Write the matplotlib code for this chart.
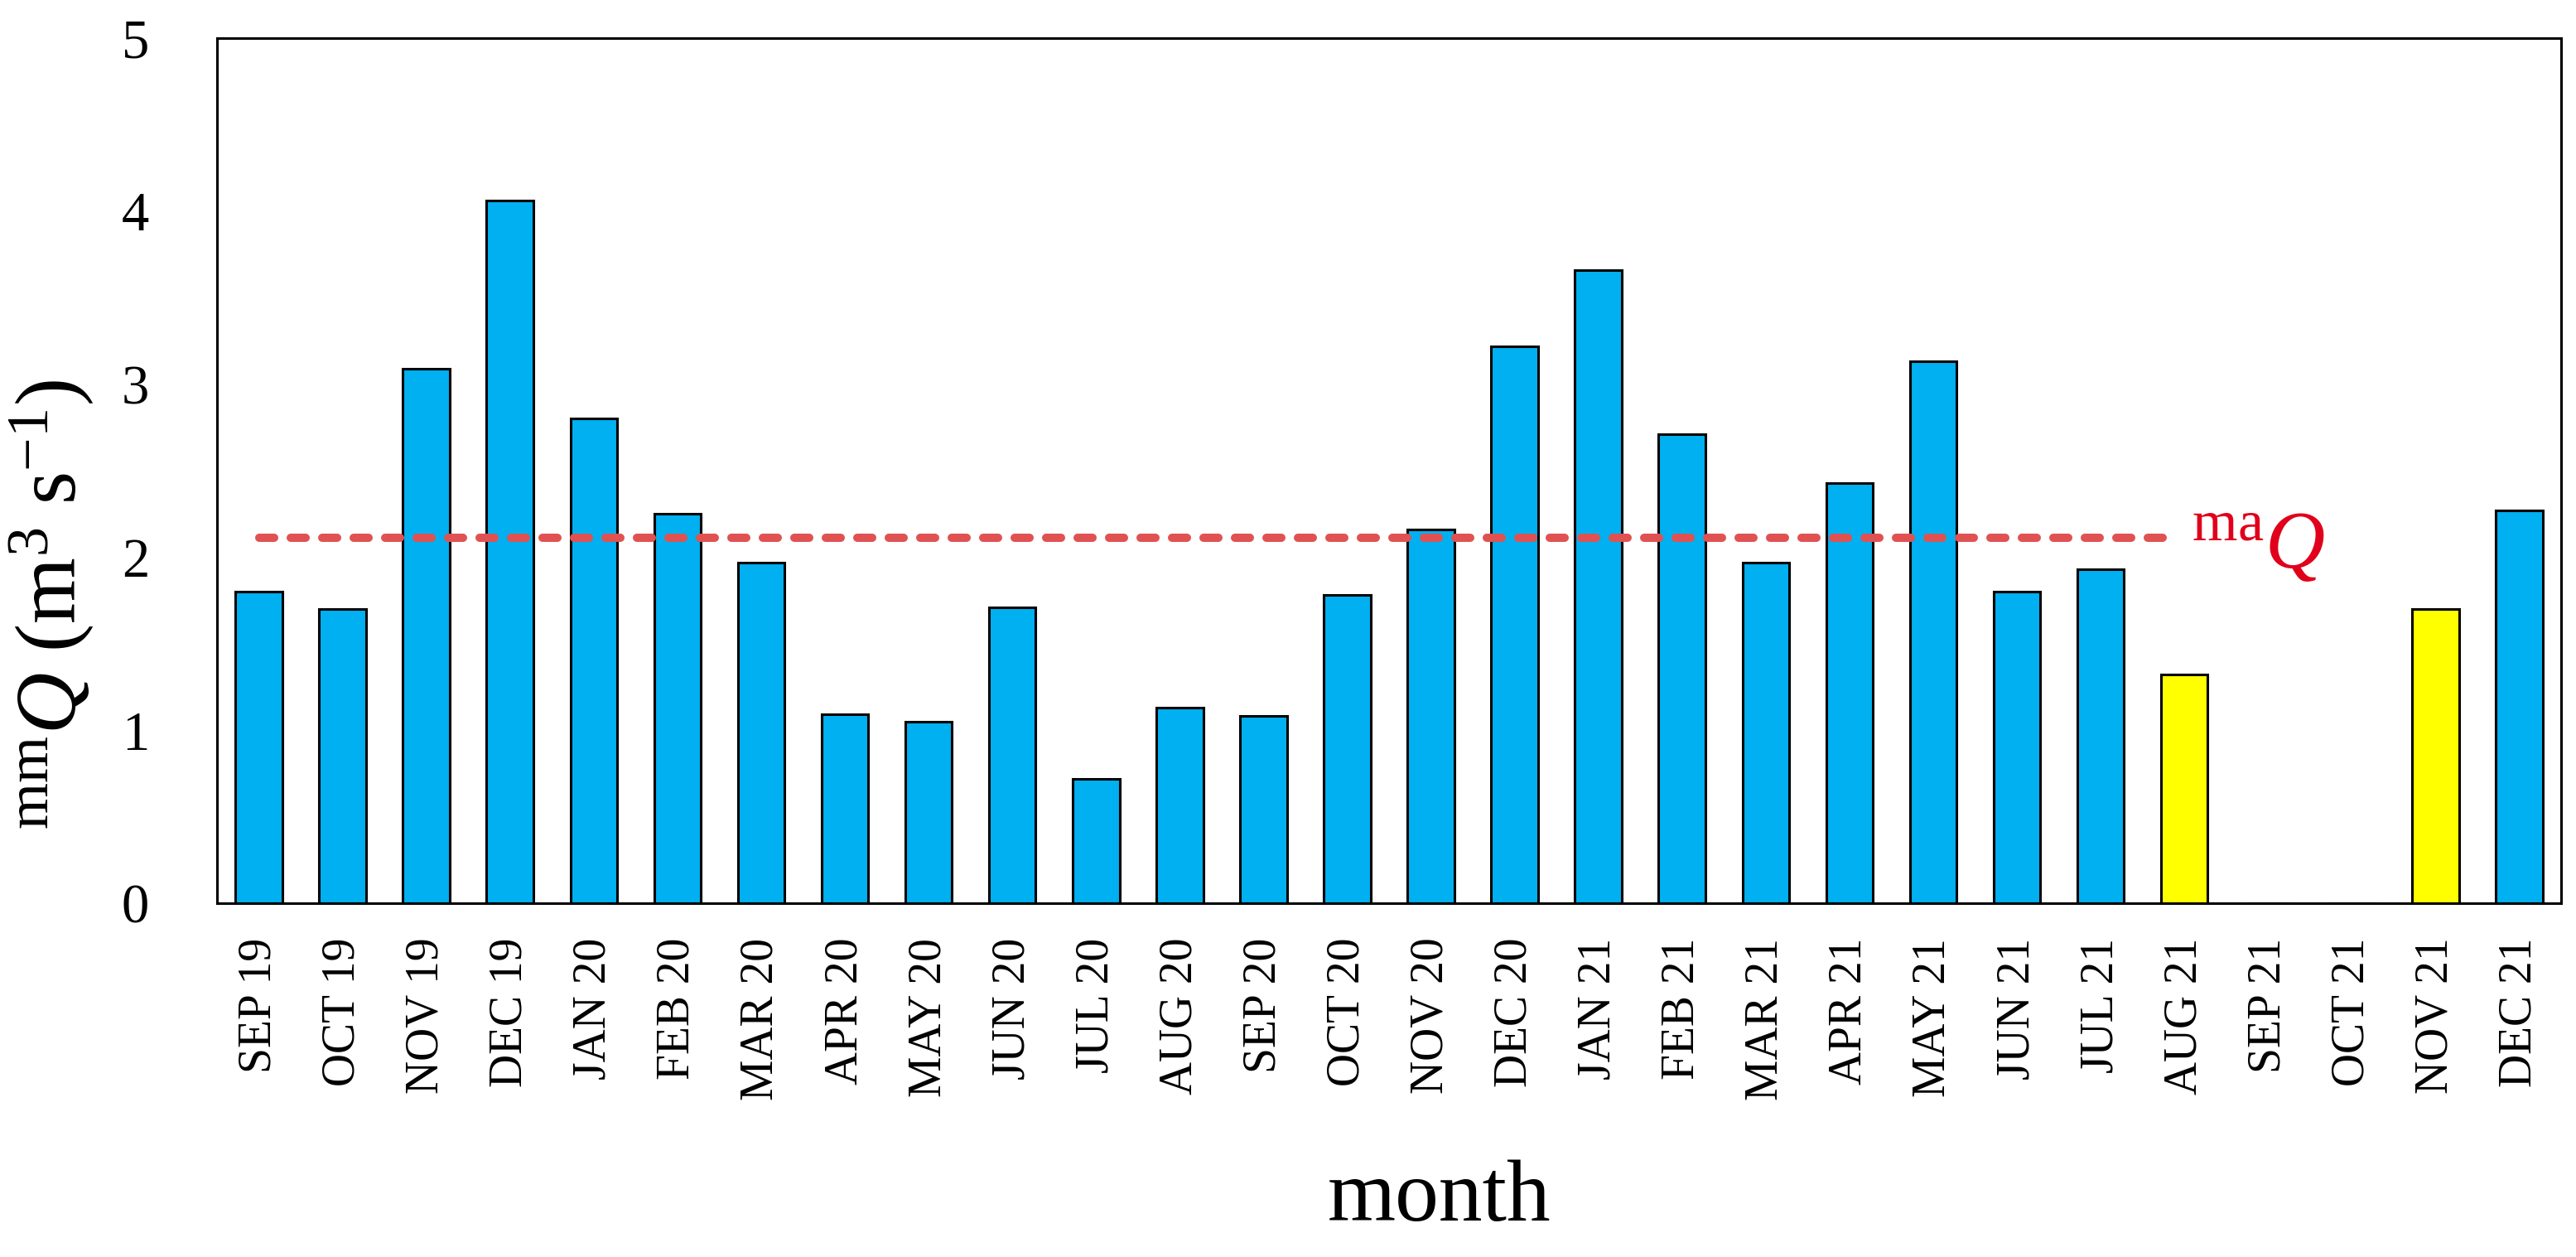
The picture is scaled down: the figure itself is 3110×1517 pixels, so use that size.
import matplotlib
matplotlib.use("Agg")
import matplotlib.pyplot as plt
import numpy as np

plt.rcParams['font.family'] = ['Liberation Serif', 'DejaVu Serif']
plt.rcParams['mathtext.fontset'] = 'custom'
plt.rcParams['mathtext.rm'] = 'Liberation Serif'
plt.rcParams['mathtext.it'] = 'Liberation Serif:italic'
plt.rcParams['mathtext.bf'] = 'Liberation Serif:bold'

months = ["SEP 19", "OCT 19", "NOV 19", "DEC 19", "JAN 20", "FEB 20", "MAR 20",
          "APR 20", "MAY 20", "JUN 20", "JUL 20", "AUG 20", "SEP 20", "OCT 20",
          "NOV 20", "DEC 20", "JAN 21", "FEB 21", "MAR 21", "APR 21", "MAY 21",
          "JUN 21", "JUL 21", "AUG 21", "SEP 21", "OCT 21", "NOV 21", "DEC 21"]
values = [1.80, 1.70, 3.09, 4.06, 2.80, 2.25, 1.97,
          1.09, 1.05, 1.71, 0.72, 1.13, 1.08, 1.78,
          2.16, 3.22, 3.66, 2.71, 1.97, 2.43, 3.13,
          1.80, 1.93, 1.32, 0.0, 0.0, 1.70, 2.27]
estimated = [False] * 23 + [True, False, False, True, False]
ma_q = 2.11
ma_q_span = [0, 22.8]

blue = '#00B0F0'
yellow = '#FFFF00'
colors = [yellow if e else blue for e in estimated]

fig = plt.figure(figsize=(31.10, 15.17), dpi=100)
ax = fig.add_axes([262/3110, 1 - 1090/1517, (3092 - 262)/3110, (1090 - 46)/1517])

x = np.arange(len(months))
ax.bar(x, values, width=0.56, color=colors, edgecolor='black', linewidth=2.2, zorder=2)

ax.plot(ma_q_span, [ma_q, ma_q], color='#E05252', linewidth=7.2,
        linestyle=(0, (1.8, 2.0)), dash_capstyle='round', zorder=3)
ax.text(23.09, 1.94, r'$^{\mathrm{ma}}\mathit{Q}$', color='#E0001B', fontsize=72,
        ha='left', va='baseline')

ax.set_xlim(-0.5, len(months) - 0.5)
ax.set_ylim(0, 5)
ax.set_yticks([0, 1, 2, 3, 4, 5])
ax.set_xticks(x)
ax.set_xticklabels(months, rotation=90, fontsize=40)
ax.tick_params(axis='x', length=0, pad=30)
ax.tick_params(axis='y', length=0, pad=59, labelsize=48)
for s in ax.spines.values():
    s.set_linewidth(2.2)

fig.text(62/3110, 1 - 729/1517, r'$^{\mathrm{mm}}\mathit{Q}\ (\mathrm{m}^{3}\ \mathrm{s}^{-1})$',
         rotation=90, ha='center', va='center', fontsize=74)
fig.text(1738/3110, 1 - 1473/1517, 'month', ha='center', va='baseline', fontsize=76)

fig.savefig('out.png', dpi=100)
